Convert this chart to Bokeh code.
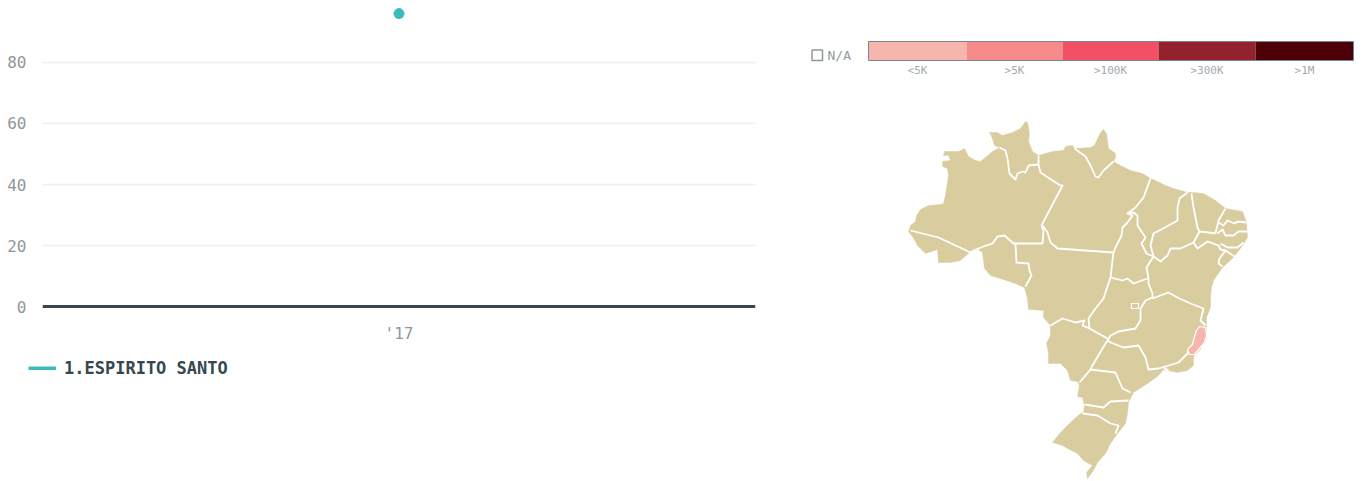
from bokeh.embed import file_html
from bokeh.resources import INLINE
from bokeh.plotting import figure
from bokeh.layouts import row, column
from bokeh.models import Range1d, FixedTicker, Span, Legend, LegendItem, ColumnDataSource
from bokeh.core.properties import value

# ---------- chart data ----------
years = [2017]
year_labels = {2017: "'17"}
espirito_santo = [96]
y_ticks = [0, 20, 40, 60, 80]
series_name = "1.ESPIRITO SANTO"

# ---------- colour scale ----------
scale_labels = ["<5K", ">5K", ">100K", ">300K", ">1M"]
scale_colors = ["#F6B6AD", "#F48A8A", "#F25064", "#94222E", "#4E0008"]
scale_left = [868, 966, 1062, 1158, 1255]
scale_right = [966, 1062, 1158, 1255, 1353]

# ---------- map outlines (map units) ----------
brazil_outline = [
 (908,231),(910,225),(915,221),(916,215),(920,209),(928,205),(940,204),(943,203),(945,195),(948,175),(947,168),
 (942,166),(942,161),(950,160),(948,155),(943,155),(944,151),(958,151),(964,148),(968,156),(975,160),(980,161),
 (992,151),(999,147),(994,145),(992,138),(989,132),(997,132),(1002,135),(1012,132),(1020,128),(1025,121),(1027,122),
 (1029,133),(1028,141),(1032,151),(1038,155),(1052,151),(1063,150),(1065,146),(1072,145),(1074,148),(1090,147),
 (1094,145),(1100,132),(1103,129),(1106,133),(1108,148),(1115,153),(1115,157),(1113,161),(1120,165),(1130,170),
 (1142,173),(1150,178),(1155,180),(1165,185),(1173,188),(1187,192),(1192,192),(1203,193),(1215,200),(1225,208),
 (1242,211),(1246,222),(1247,237),(1242,245),(1233,257),(1222,267),(1213,280),(1211,287),(1210,295),(1210,307),
 (1206,317),(1206,328),(1206,338),(1199,350),(1193,356),(1193,365),(1187,370),(1177,372),(1163,369),(1158,375),
 (1147,383),(1133,392),(1128,402),(1127,413),(1125,423),(1117,433),(1110,443),(1105,453),(1097,462),(1093,470),
 (1087,478),(1086,472),(1092,465),(1083,460),(1077,453),(1067,448),(1062,445),(1052,442),(1060,432),(1072,420),
 (1080,413),(1083,412),(1084,405),(1082,397),(1077,396),(1079,385),(1077,381),(1070,380),(1067,370),(1060,363),
 (1048,363),(1048,352),(1046,343),(1050,335),(1050,325),(1043,317),(1043,310),(1028,309),(1027,298),(1024,287),
 (1015,283),(1003,279),(990,275),(984,268),(982,252),(978,249),(970,251),(960,260),(950,262),(938,262),(937,249),
 (925,253),(917,245),(912,236),
]
espirito_santo_shape = [(1199,326),(1205,327),(1206,335),(1204,342),(1199,348),(1194,354),(1189,354),(1187,349),(1192,344),(1194,336),(1196,330)]
distrito_federal = [(1131,303),(1138,303),(1138,308),(1131,308)]
state_borders = [
 [(910,230),(938,237),(970,252)],
 [(970,252),(973,250),(983,246),(992,243),(997,236),(1004,235),(1013,243),(1042,243),(1043,231),(1041,225)],
 [(999,147),(1005,150),(1007,158),(1009,173),(1015,179),(1017,173),(1022,171),(1025,172),(1028,165),(1038,164),(1038,155)],
 [(1038,164),(1040,172),(1052,180),(1060,185),(1062,185),(1041,225)],
 [(1074,148),(1085,156),(1090,165),(1095,176),(1098,177),(1103,170),(1113,161)],
 [(1042,225),(1047,232),(1050,242),(1057,248),(1113,252)],
 [(1015,243),(1016,262),(1028,263),(1029,270),(1031,275),(1025,286)],
 [(1150,178),(1143,197),(1135,207),(1127,213),(1132,215),(1127,222),(1122,227),(1121,235),(1115,247),(1113,252),(1112,260),(1110,277),(1103,298),(1095,308),(1088,318),(1089,328),(1107,338)],
 [(1050,325),(1062,318),(1075,322),(1084,320),(1082,325),(1089,328)],
 [(1127,213),(1133,212),(1137,215),(1137,225),(1145,237),(1141,243),(1146,253),(1153,256)],
 [(1187,192),(1179,198),(1177,207),(1177,220),(1170,224),(1153,233),(1150,245),(1153,256)],
 [(1191,193),(1193,207),(1197,227),(1199,231),(1193,242),(1180,248),(1170,248),(1167,255),(1160,261),(1153,256),(1146,267),(1148,278),(1148,283),(1152,293),(1152,298)],
 [(1110,277),(1122,280),(1127,278),(1133,283),(1147,278)],
 [(1152,297),(1145,300),(1140,308),(1140,320),(1135,328),(1118,331),(1110,335),(1107,340)],
 [(1152,298),(1168,292),(1177,297),(1190,303),(1203,308),(1200,320),(1205,325)],
 [(1107,340),(1110,342),(1123,347),(1138,345),(1145,357),(1148,369),(1158,368),(1165,366),(1178,362),(1187,353),(1188,350)],
 [(1163,367),(1168,370)],
 [(1107,340),(1102,348),(1092,365),(1090,369),(1115,372),(1122,388),(1130,392)],
 [(1090,369),(1079,382)],
 [(1084,404),(1103,407),(1110,401),(1128,400)],
 [(1082,413),(1097,415),(1110,423),(1118,425),(1115,433)],
 [(1225,208),(1218,220),(1215,233)],
 [(1246,222),(1237,221),(1234,223),(1227,220),(1223,225),(1218,222)],
 [(1199,231),(1208,232),(1215,233)],
 [(1247,231),(1238,231),(1233,235),(1225,235),(1222,229),(1217,233)],
 [(1243,242),(1237,247),(1227,247),(1220,243)],
 [(1193,242),(1197,248),(1207,241),(1218,245),(1220,249),(1225,250),(1234,256)],
 [(1225,250),(1219,258),(1218,263),(1222,266)],
]

MONO = "DejaVu Sans Mono"
GREY = "#8f979b"
DARK = "#37474F"
TEAL = "#3DBBBB"
TAN = "#D9CDA0"

# ---------- left chart ----------
left = figure(width=780, height=346, output_backend="svg", toolbar_location=None,
              x_range=Range1d(2016, 2018), y_range=Range1d(-1.6, 100.3),
              min_border_left=42, min_border_right=25, min_border_top=0, min_border_bottom=35,
              outline_line_color=None, frame_align=False)
left.xgrid.visible = False
left.ygrid.grid_line_color = "#ECEFF1"
left.ygrid.grid_line_width = 1.5
left.ygrid.ticker = FixedTicker(ticks=y_ticks)
left.yaxis.ticker = FixedTicker(ticks=y_ticks)
left.xaxis.ticker = FixedTicker(ticks=years)
left.xaxis.major_label_overrides = year_labels
for ax in (left.xaxis[0], left.yaxis[0]):
    ax.axis_line_color = None
    ax.major_tick_line_color = None
    ax.minor_tick_line_color = None
    ax.major_tick_out = 0
    ax.major_label_text_color = GREY
    ax.major_label_text_font = MONO
    ax.major_label_text_font_size = "16px"
left.yaxis[0].major_label_standoff = 16
left.xaxis[0].major_label_standoff = 12
left.add_layout(Span(location=0, dimension="width", line_color=DARK, line_width=3))
src = ColumnDataSource(dict(year=years, v=espirito_santo))
left.line("year", "v", source=src, line_color=TEAL, line_width=4)
left.scatter("year", "v", source=src, size=10, color=TEAL)

# ---------- series legend, below the chart ----------
key = figure(width=780, height=134, output_backend="svg", toolbar_location=None,
             x_range=Range1d(2016, 2018), y_range=Range1d(0, 100), min_border=0,
             outline_line_color=None, x_axis_type=None, y_axis_type=None, frame_align=False)
key.grid.visible = False
ln = key.line("year", "v", source=src, line_color=TEAL, line_width=4)
lg = Legend(items=[LegendItem(label=series_name, renderers=[ln])], location=(28, 102),
            orientation="horizontal", border_line_color=None, background_fill_alpha=0,
            glyph_width=28, glyph_height=4, label_text_font=MONO, label_text_font_style="bold",
            label_text_font_size="17px", label_text_color=DARK, padding=0, margin=0, label_standoff=8)
key.add_layout(lg, "center")

# ---------- right map and scale ----------
right = figure(width=584, height=480, output_backend="svg", toolbar_location=None,
               x_range=Range1d(780, 1364), y_range=Range1d(480, 0),
               min_border=0, outline_line_color=None, x_axis_type=None, y_axis_type=None,
               frame_align=False)
right.grid.visible = False
def xs(pts): return [p[0] for p in pts]
def ys(pts): return [p[1] for p in pts]
right.patch(xs(brazil_outline), ys(brazil_outline), fill_color=TAN, line_color=TAN, line_width=0.5)
right.multi_line([xs(b) for b in state_borders], [ys(b) for b in state_borders],
                 line_color="white", line_width=1.8, line_join="round")
right.patch(xs(espirito_santo_shape), ys(espirito_santo_shape), fill_color=scale_colors[0],
            line_color="white", line_width=1.2)
right.patch(xs(distrito_federal), ys(distrito_federal), fill_color=TAN, line_color="white", line_width=1.2)
right.quad(left=scale_left, right=scale_right, top=[41]*5, bottom=[60]*5, fill_color=scale_colors, line_color=None)
right.quad(left=[868], right=[1353], top=[41], bottom=[60], fill_color=None, line_color="#78868D", line_width=1)
mids = [(a + b) / 2 for a, b in zip(scale_left, scale_right)]
right.text(mids, [70]*5, text=scale_labels, text_align="center", text_baseline="middle",
           text_font=value(MONO), text_font_size="11px", text_color="#A3AAAE")
right.quad(left=[811.5], right=[822], top=[49.5], bottom=[60], fill_color=None, line_color="#8F989C", line_width=1.5)
right.text([827], [55], text=["N/A"], text_align="left", text_baseline="middle",
           text_font=value(MONO), text_font_size="13px", text_color="#8F989C")

page = row(column(left, key, spacing=0), right, spacing=0)
open("out.html", "w").write(file_html(page, INLINE))
